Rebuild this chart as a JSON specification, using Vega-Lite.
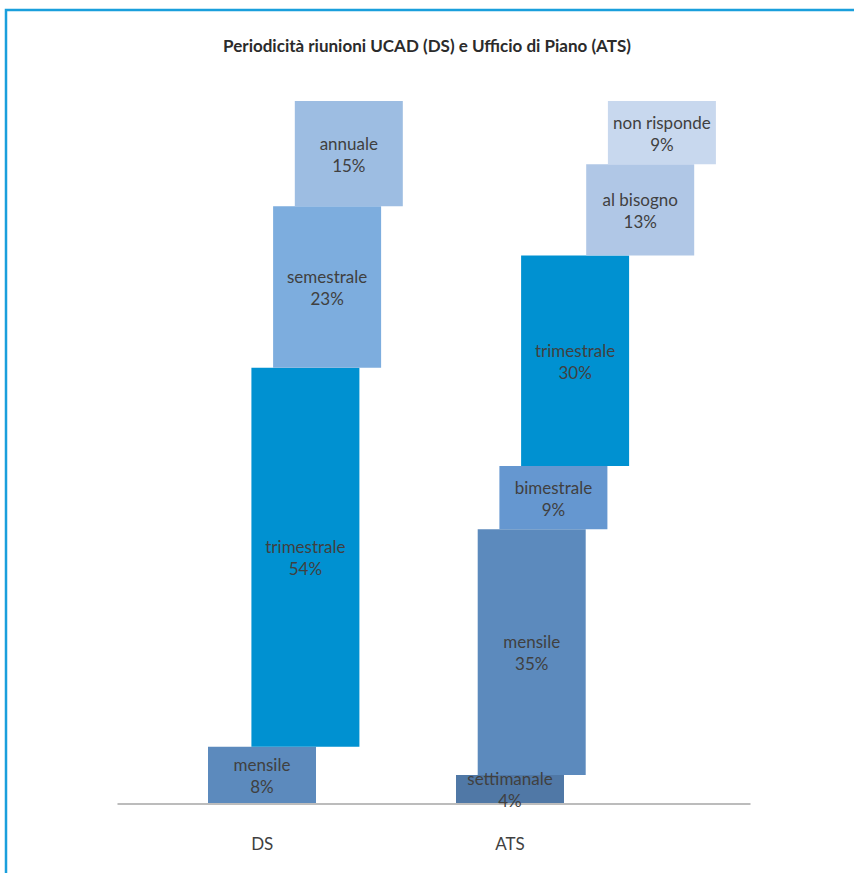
{
  "$schema": "https://vega.github.io/schema/vega-lite/v6.json",
  "width": 852,
  "height": 867,
  "autosize": {"type": "none"},
  "padding": {"left": 6, "top": 10, "right": -4, "bottom": -4},
  "background": "white",
  "config": {"view": {"stroke": "#1a9fdc", "strokeWidth": 2.5}, "font": "Lato"},
  "title": {
    "text": "Periodicità riunioni UCAD (DS) e Ufficio di Piano (ATS)",
    "font": "Lato",
    "fontSize": 17,
    "fontWeight": "bold",
    "color": "#2b2b2b",
    "anchor": "middle",
    "offset": -46,
    "dx": -5
  },
  "data": {
    "values": [
      {"gruppo": "DS", "serie": "mensile", "value": 0.08},
      {"gruppo": "DS", "serie": "trimestrale", "value": 0.54},
      {"gruppo": "DS", "serie": "semestrale", "value": 0.23},
      {"gruppo": "DS", "serie": "annuale", "value": 0.15},
      {"gruppo": "ATS", "serie": "settimanale", "value": 0.04},
      {"gruppo": "ATS", "serie": "mensile", "value": 0.35},
      {"gruppo": "ATS", "serie": "bimestrale", "value": 0.09},
      {"gruppo": "ATS", "serie": "trimestrale", "value": 0.30},
      {"gruppo": "ATS", "serie": "al bisogno", "value": 0.13},
      {"gruppo": "ATS", "serie": "non risponde", "value": 0.09}
    ]
  },
  "transform": [
    {"stack": "value", "groupby": ["gruppo"], "as": ["y0", "y1"]},
    {"calculate": "(datum.y0 + datum.y1) / 2", "as": "ymid"}
  ],
  "encoding": {
    "x": {
      "field": "gruppo",
      "type": "nominal",
      "sort": ["DS", "ATS"],
      "scale": {"range": [111, 744], "paddingInner": 0.3563, "paddingOuter": 0.3517, "align": 0.5928},
      "axis": {
        "title": null,
        "ticks": false,
        "grid": false,
        "domainColor": "#a6a6a6",
        "domainWidth": 1.5,
        "labelFont": "Lato",
        "labelFontSize": 17,
        "labelColor": "#404040",
        "labelPadding": 33,
        "labelAngle": 0,
        "offset": -73.5,
        "labelOffset": {"condition": {"test": "datum.value === 'DS'", "value": -54}, "value": -76}
      }
    },
    "xOffset": {
      "field": "serie",
      "type": "nominal",
      "scale": {
        "domain": ["settimanale", "mensile", "bimestrale", "trimestrale", "semestrale", "annuale", "al bisogno", "non risponde"],
        "paddingInner": 0,
        "paddingOuter": 0
      }
    }
  },
  "layer": [
    {
      "mark": {"type": "bar", "width": 108},
      "encoding": {
        "y": {"field": "y0", "type": "quantitative", "scale": {"domain": [0, 1], "range": [793, 91], "nice": false, "zero": false}, "axis": null},
        "y2": {"field": "y1"},
        "color": {
          "field": "serie",
          "type": "nominal",
          "scale": {
            "domain": ["settimanale", "mensile", "bimestrale", "trimestrale", "semestrale", "annuale", "al bisogno", "non risponde"],
            "range": ["#5078a6", "#5c8abd", "#6597d0", "#0091d1", "#7dadde", "#9dbde2", "#b0c7e6", "#c8d8ee"]
          },
          "legend": null
        }
      }
    },
    {
      "mark": {"type": "text", "dy": -9, "fontSize": 17, "color": "#404040", "font": "Lato", "baseline": "middle"},
      "encoding": {
        "y": {"field": "ymid", "type": "quantitative"},
        "text": {"field": "serie", "type": "nominal"}
      }
    },
    {
      "mark": {"type": "text", "dy": 13, "fontSize": 17, "color": "#404040", "font": "Lato", "baseline": "middle"},
      "encoding": {
        "y": {"field": "ymid", "type": "quantitative"},
        "text": {"field": "value", "type": "quantitative", "format": ".0%"}
      }
    }
  ]
}
